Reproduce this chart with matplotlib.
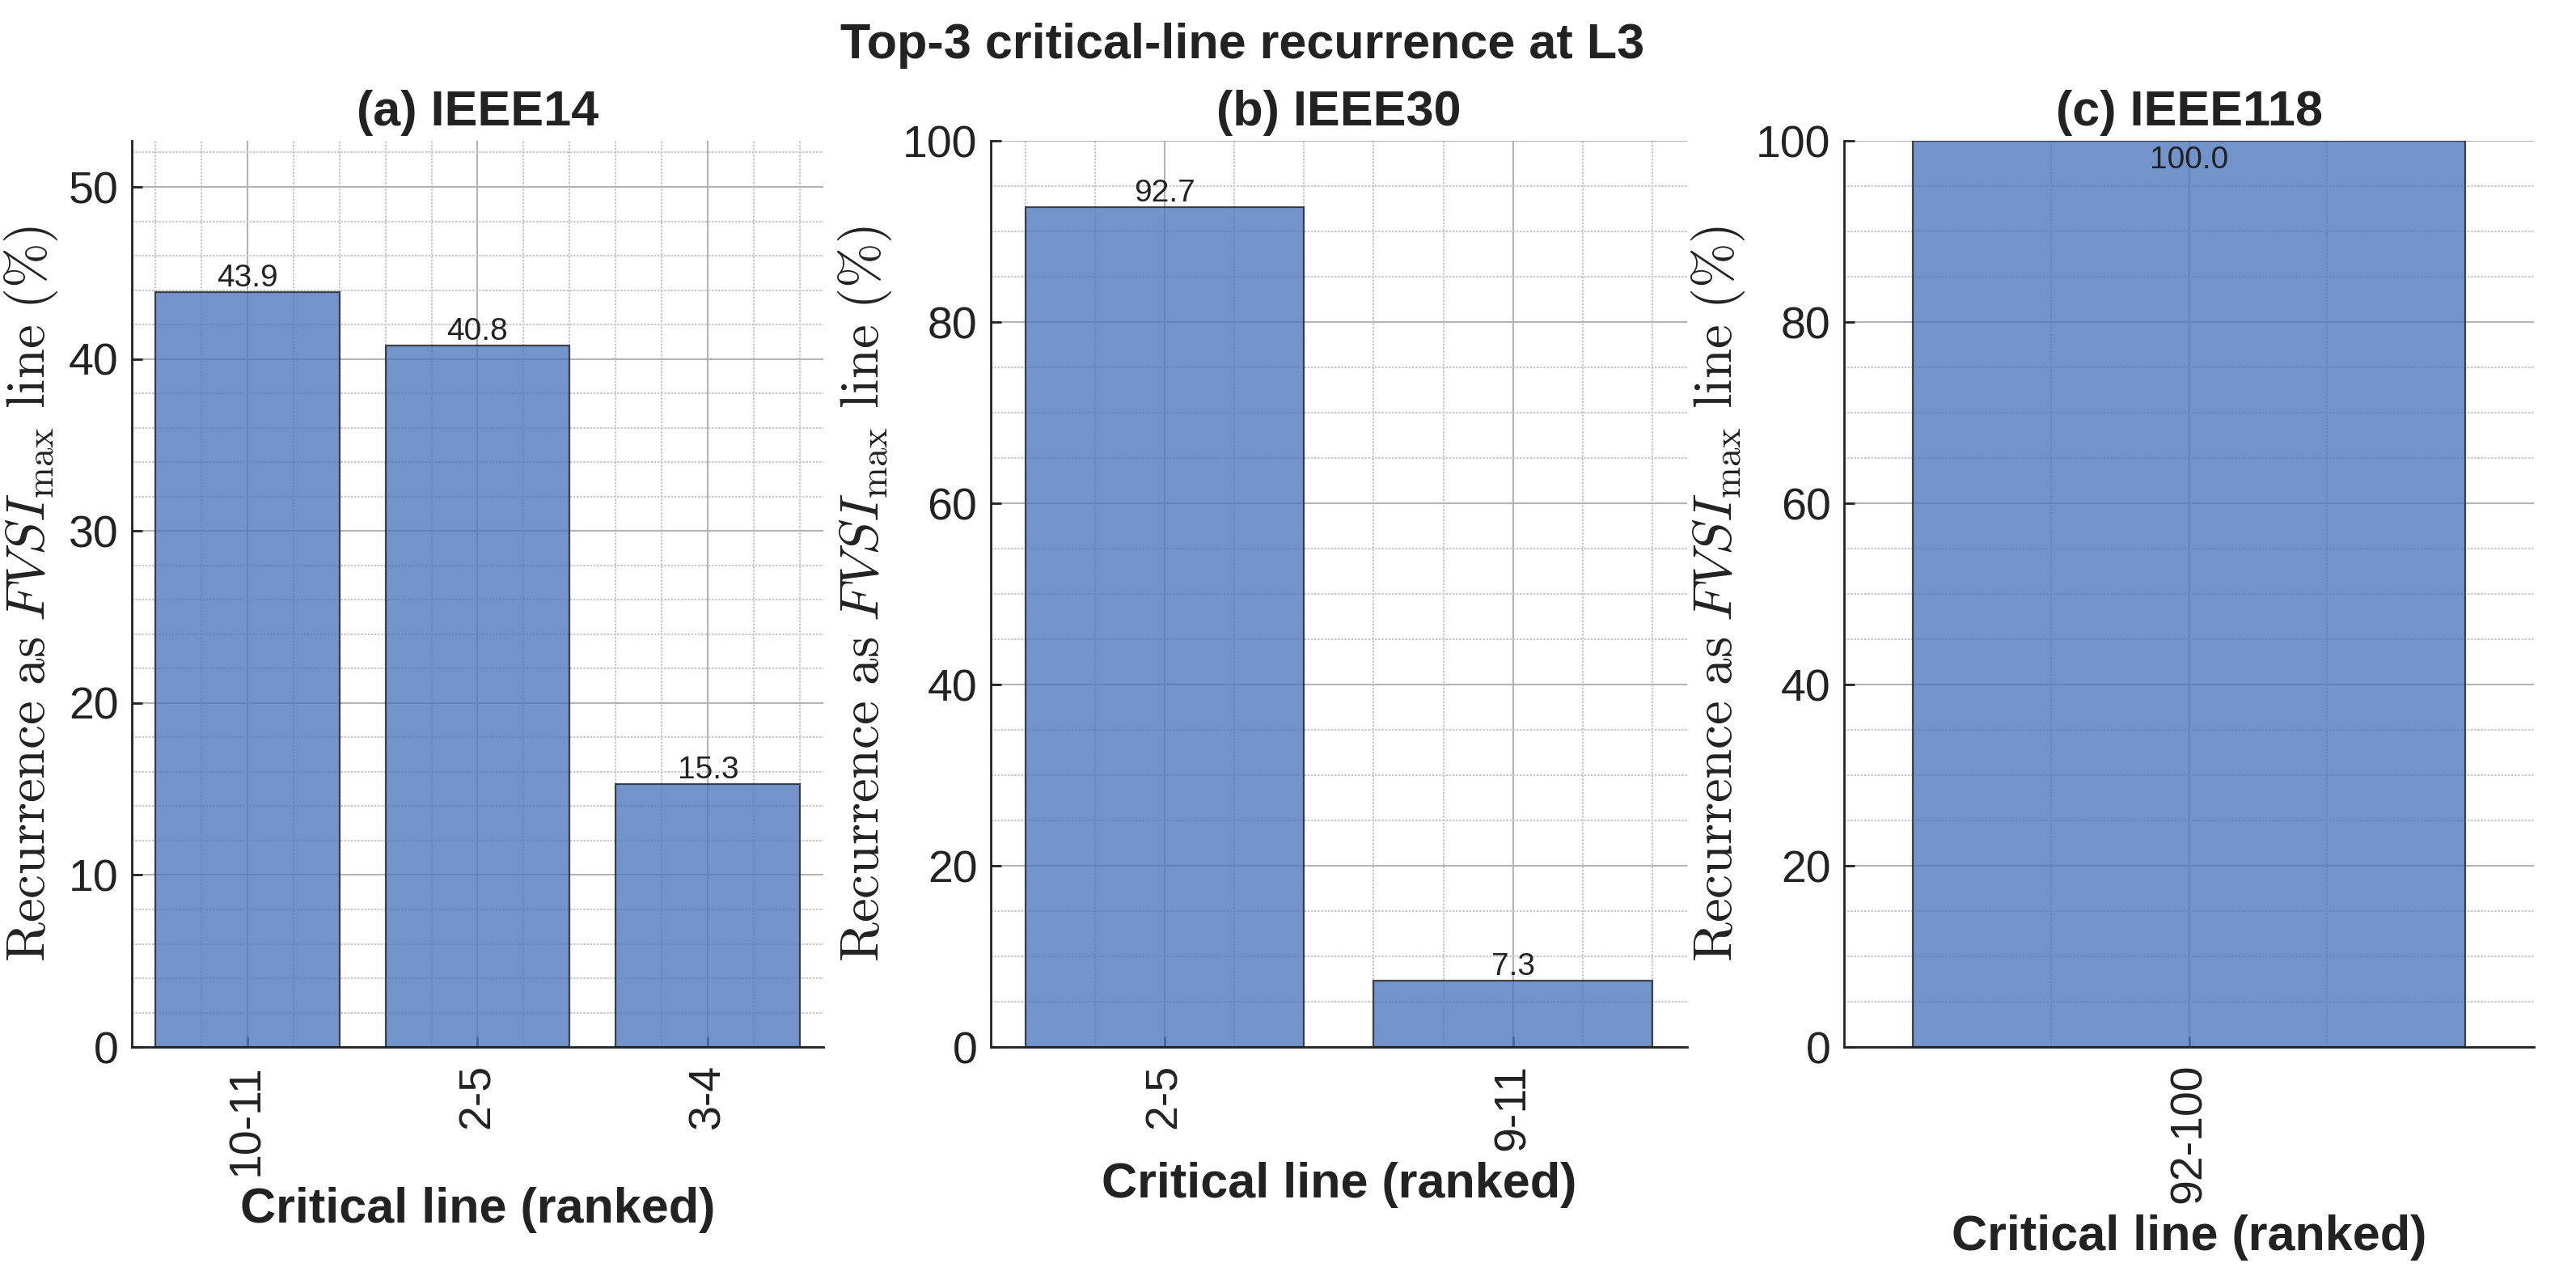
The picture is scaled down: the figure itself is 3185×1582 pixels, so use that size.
import numpy as np
import matplotlib
matplotlib.use("Agg")
import matplotlib.pyplot as plt
from matplotlib.ticker import MultipleLocator, AutoMinorLocator

# Top-3 critical lines per system (recurrence as FVSI_max line, %)
systems = ['IEEE14', 'IEEE30', 'IEEE118']
panel_tags = ['(a)', '(b)', '(c)']
lines_14 = ['10-11', '2-5', '3-4']
vals_14 = [43.9, 40.8, 15.3]
lines_30 = ['2-5', '9-11']
vals_30 = [92.7, 7.3]
lines_118 = ['92-100']
vals_118 = [100.0]

all_lines = [lines_14, lines_30, lines_118]
all_vals = [vals_14, vals_30, vals_118]

plt.rcParams['font.family'] = ['Liberation Sans', 'DejaVu Sans']
plt.rcParams['mathtext.fontset'] = 'cm'
plt.rcParams['axes.axisbelow'] = True
plt.rcParams['text.color'] = '#222222'
plt.rcParams['axes.labelcolor'] = '#222222'
plt.rcParams['xtick.color'] = '#222222'
plt.rcParams['ytick.color'] = '#222222'

bar_color = '#4f79be'
txt = '#222222'

fig = plt.figure(figsize=(15.925, 7.91), dpi=200)

boxes = [
    [0.0512, 0.182, 0.2684, 0.708],
    [0.3846, 0.182, 0.2703, 0.708],
    [0.7159, 0.182, 0.2678, 0.708],
]

ylab = r'$\mathrm{Recurrence\ as\ }FVSI_{\mathrm{max}}\mathrm{\ line\ (\%)}$'

for k in range(3):
    ax = fig.add_axes(boxes[k])
    labels = all_lines[k]
    vals = all_vals[k]
    x = np.arange(len(labels))

    ax.bar(x, vals, width=0.8, color=bar_color, alpha=0.8,
           edgecolor='#222222', linewidth=0.8, zorder=2)

    ytop = min(100.0, max(vals) * 1.2)
    ax.set_ylim(0, ytop)
    ax.set_xlim(-0.5, len(labels) - 0.5)

    # value labels
    for xi, v in zip(x, vals):
        if v >= ytop * 0.97:
            ax.annotate(f'{v:.1f}', (xi, v), xytext=(0, -2), textcoords='offset points',
                        ha='center', va='top', fontsize=14, color=txt, zorder=5)
        else:
            ax.annotate(f'{v:.1f}', (xi, v), xytext=(0, 2.5), textcoords='offset points',
                        ha='center', va='baseline', fontsize=14, color=txt, zorder=5)

    ax.set_xticks(x)
    ax.set_xticklabels(labels, rotation=90)
    ax.xaxis.set_minor_locator(MultipleLocator(0.2))
    ax.yaxis.set_minor_locator(AutoMinorLocator())

    ax.grid(which='major', color='#b4b4b4', linewidth=0.75, linestyle='-')
    ax.grid(which='minor', color='#c8c8c8', linewidth=0.75, linestyle=(0, (1.2, 0.8)))

    ax.tick_params(which='major', direction='in', length=4.7, width=1.0,
                   labelsize=20, pad=6)
    ax.tick_params(axis='x', which='major', pad=7.5)
    ax.tick_params(which='minor', length=0)

    for s in ['top', 'right']:
        ax.spines[s].set_visible(False)
    for s in ['left', 'bottom']:
        ax.spines[s].set_linewidth(1.0)
        ax.spines[s].set_color('#222222')
        ax.spines[s].set_zorder(4)

    ax.set_title(f'{panel_tags[k]} {systems[k]}', fontsize=22, fontweight='bold', pad=7)
    ax.set_xlabel('Critical line (ranked)', fontsize=22, fontweight='bold', labelpad=5)
    ax.set_ylabel(ylab, fontsize=24, labelpad=4)

fig.text(0.4823, 1 - 72 / 1582, 'Top-3 critical-line recurrence at L3',
         ha='center', va='baseline', fontsize=22, fontweight='bold', color=txt)

fig.savefig('out.png', dpi=200)
